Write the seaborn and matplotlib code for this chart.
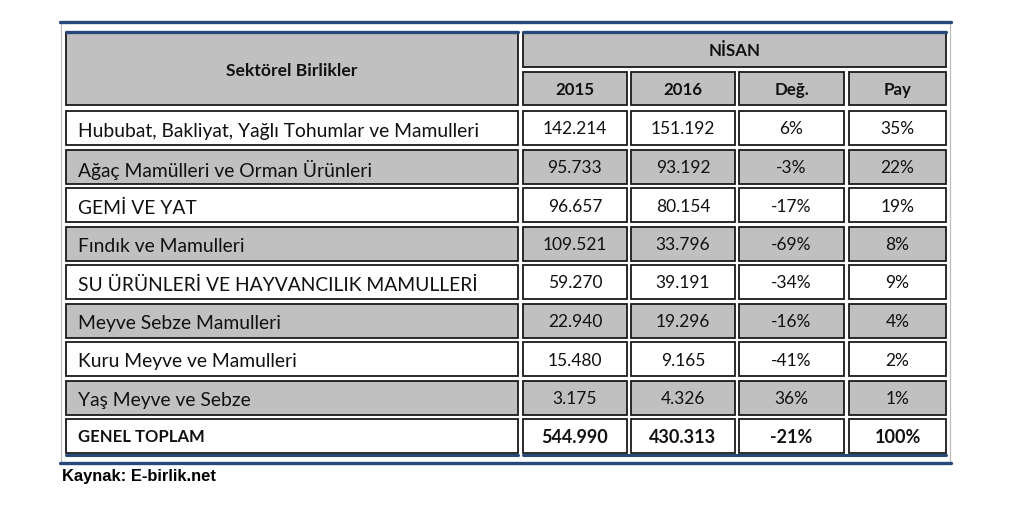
import numpy as np
import matplotlib.pyplot as plt
import matplotlib.patches as mpatches
import seaborn as sns

sns.set_theme(style="white")
plt.rcParams['font.family'] = ['Lato', 'DejaVu Sans']

# table data
sectors = ["Hububat, Bakliyat, Yağlı Tohumlar ve Mamulleri",
           "Ağaç Mamülleri ve Orman Ürünleri",
           "GEMİ VE YAT",
           "Fındık ve Mamulleri",
           "SU ÜRÜNLERİ VE HAYVANCILIK MAMULLERİ",
           "Meyve Sebze Mamulleri",
           "Kuru Meyve ve Mamulleri",
           "Yaş Meyve ve Sebze"]
v2015 = [142214, 95733, 96657, 109521, 59270, 22940, 15480, 3175]
v2016 = [151192, 93192, 80154, 33796, 39191, 19296, 9165, 4326]
deg = [6, -3, -17, -69, -34, -16, -41, 36]
pay = [35, 22, 19, 8, 9, 4, 2, 1]
total_label = "GENEL TOPLAM"
total_2015 = 544990
total_2016 = 430313
total_deg = -21
total_pay = 100
header_first = "Sektörel Birlikler"
header_month = "NİSAN"
sub_headers = ["2015", "2016", "Değ.", "Pay"]
source = "Kaynak: E-birlik.net"

def fmt_num(v):
    return f"{v:,}".replace(",", ".")

# layout (pixel coordinates)
blue = "#27497A"
gray = "#C0C0C0"
cols = [(66, 518), (523, 627), (631, 735), (739, 844), (849, 946)]
row0 = 111
pitch = 38.5
rh = 34

fig = plt.figure(figsize=(10.31, 5.08), dpi=100)
ax = fig.add_axes([0, 0, 1, 1])
ax.set_xlim(0, 1031)
ax.set_ylim(508, 0)
ax.axis("off")

def cell(x0, x1, y0, y1, fill):
    ax.add_patch(mpatches.Rectangle((x0, y0), x1 - x0, y1 - y0, facecolor=fill,
                                    edgecolor="#1a1a1a", linewidth=1.3, zorder=2))

# outer frame
ax.plot([61, 61], [22, 463], color="#bdbdbd", lw=0.9, zorder=1)
ax.plot([950, 950], [22, 463], color="#bdbdbd", lw=0.9, zorder=1)
ax.plot([60, 951], [22, 22], color=blue, lw=2.4, zorder=3)
ax.plot([60, 951], [462.5, 462.5], color=blue, lw=2.4, zorder=3)

# header
cell(cols[0][0], cols[0][1], 33, 105, gray)
cell(cols[1][0], cols[4][1], 33, 67, gray)
for (x0, x1), lab in zip(cols[1:], sub_headers):
    cell(x0, x1, 72, 105, gray)
    ax.text((x0 + x1) / 2, 90, lab, ha="center", va="center", fontsize=12.2,
            fontweight="bold", color="#111")
ax.plot([cols[0][0], cols[0][1]], [32, 32], color=blue, lw=2.4, zorder=3)
ax.plot([cols[1][0], cols[4][1]], [32, 32], color=blue, lw=2.4, zorder=3)
ax.text((cols[0][0] + cols[0][1]) / 2, 71, header_first, ha="center", va="center",
        fontsize=12.6, fontweight="bold", color="#111")
ax.text((cols[1][0] + cols[4][1]) / 2, 51, header_month, ha="center", va="center",
        fontsize=12.2, fontweight="bold", color="#111")

# data rows
for i, name in enumerate(sectors):
    y0 = row0 + i * pitch
    fill = "white" if i % 2 == 0 else gray
    vals = [fmt_num(v2015[i]), fmt_num(v2016[i]), f"{deg[i]}%", f"{pay[i]}%"]
    cell(cols[0][0], cols[0][1], y0, y0 + rh, fill)
    ax.text(cols[0][0] + 12, y0 + rh / 2 + 3, name, ha="left", va="center",
            fontsize=13.9, color="#111")
    for (x0, x1), v in zip(cols[1:], vals):
        cell(x0, x1, y0, y0 + rh, fill)
        ax.text((x0 + x1) / 2, y0 + rh / 2 + 1.5, v, ha="center", va="center",
                fontsize=12.5, color="#111")

# total row
y0 = row0 + len(sectors) * pitch
tot_vals = [fmt_num(total_2015), fmt_num(total_2016), f"{total_deg}%", f"{total_pay}%"]
cell(cols[0][0], cols[0][1], y0, y0 + rh, "white")
ax.text(cols[0][0] + 12, y0 + rh / 2 + 1, total_label, ha="left", va="center",
        fontsize=12, fontweight="bold", color="#111")
for (x0, x1), v in zip(cols[1:], tot_vals):
    cell(x0, x1, y0, y0 + rh, "white")
    ax.text((x0 + x1) / 2, y0 + rh / 2 + 1.5, v, ha="center", va="center",
            fontsize=13, fontweight="bold", color="#111")
for x0, x1 in [(cols[0][0], cols[0][1]), (cols[1][0], cols[4][1])]:
    ax.plot([x0, x1], [y0 + rh + 2, y0 + rh + 2], color=blue, lw=2.2, zorder=3)

ax.text(62, 477, source, ha="left", va="center", fontsize=11.9, fontweight="bold",
        family="Liberation Sans", color="black")

fig.savefig("out.png", dpi=100)
